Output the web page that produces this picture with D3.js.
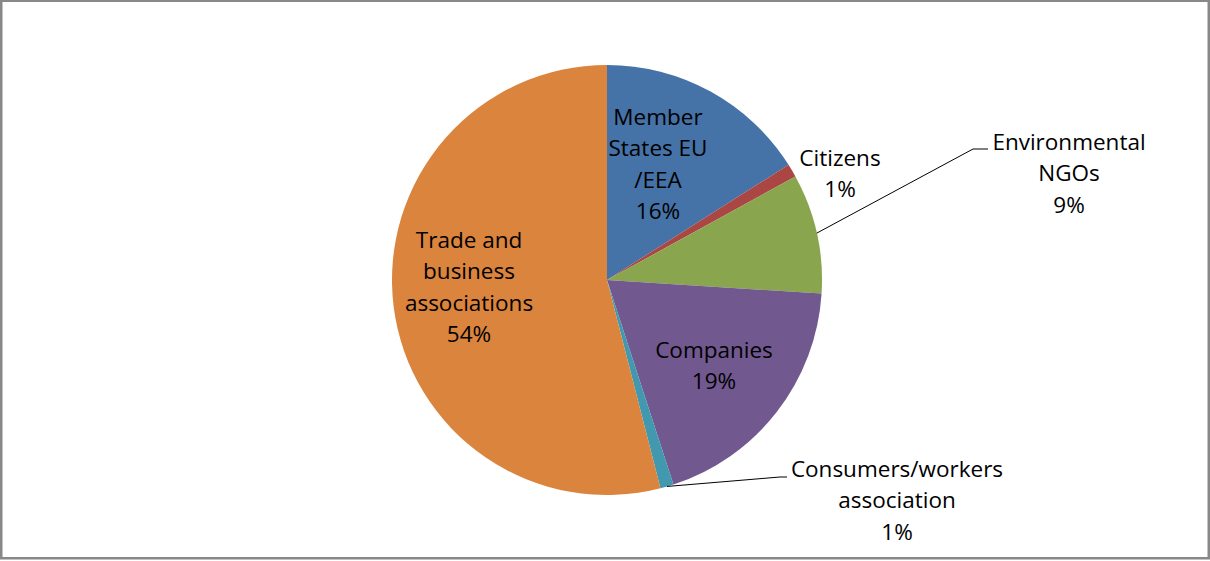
<!DOCTYPE html>
<html>
<head>
<meta charset="utf-8">
<script src="https://cdn.jsdelivr.net/npm/d3@7"></script>
<style>
  html, body { margin: 0; padding: 0; background: #fff; }
  svg { display: block; }
  text { font-family: "Open Sans", Lato, sans-serif; fill: #000; }
</style>
</head>
<body>
<svg id="chart" width="1210" height="561"></svg>
<script>
// Share of contributions by stakeholder group (%)
const categories = [
  "Member States EU /EEA",
  "Citizens",
  "Environmental NGOs",
  "Companies",
  "Consumers/workers association",
  "Trade and business associations"
];
const shares = [16, 1, 9, 19, 1, 54];
const labelLines = [
  ["Member", "States EU", "/EEA"],
  ["Citizens"],
  ["Environmental", "NGOs"],
  ["Companies"],
  ["Consumers/workers", "association"],
  ["Trade and", "business", "associations"]
];
const colors = ["#4572A7", "#AA4643", "#89A54E", "#71588F", "#4198AF", "#DB843D"];

// Label placement relative to the pie centre; leader = label sits outside with a connector
const labelLayout = [
  { dx: 51,  dy: -163, leader: false },
  { dx: 233, dy: -122, leader: false },
  { dx: 462, dy: -138, leader: true, elbow: [366, -131], end: [381, -131] },
  { dx: 107, dy: 70,   leader: false },
  { dx: 290, dy: 189,  leader: true, elbow: [173, 197], end: [180, 197] },
  { dx: -138, dy: -40, leader: false }
];

const W = 1210, H = 561;
const cx = 607, cy = 280, R = 215;
const lineH = 31.5;

const svg = d3.select("#chart");

// frame
svg.append("rect")
  .attr("x", 1.25).attr("y", 0.75)
  .attr("width", 1207.5).attr("height", 557.5)
  .attr("fill", "#fff")
  .attr("stroke", "#888")
  .attr("stroke-width", 2.5);

const data = categories.map((c, i) => ({ name: c, value: shares[i], i }));

const pie = d3.pie().value(d => d.value).sort(null);
const arc = d3.arc().innerRadius(0).outerRadius(R);
const edgeArc = d3.arc().innerRadius(R).outerRadius(R);

const g = svg.append("g").attr("transform", `translate(${cx},${cy})`);
const arcs = pie(data);

g.selectAll("path.slice")
  .data(arcs)
  .join("path")
  .attr("class", "slice")
  .attr("d", arc)
  .attr("fill", d => colors[d.data.i]);

// leader lines for outside labels
arcs.forEach(a => {
  const L = labelLayout[a.data.i];
  if (!L.leader) return;
  const start = edgeArc.centroid(a);
  g.append("polyline")
    .attr("points", [start, L.elbow, L.end].map(p => p.join(",")).join(" "))
    .attr("fill", "none")
    .attr("stroke", "#000")
    .attr("stroke-width", 1);
});

// labels
arcs.forEach(a => {
  const i = a.data.i;
  const L = labelLayout[i];
  const lines = labelLines[i].concat([d3.format(".0f")(a.data.value) + "%"]);
  const t = g.append("text")
    .attr("text-anchor", "middle")
    .attr("font-size", 22.5);
  lines.forEach((s, k) => {
    t.append("tspan")
      .attr("x", L.dx)
      .attr("y", L.dy + k * lineH)
      .attr("dy", "0.35em")
      .text(s);
  });
});
</script>
</body>
</html>
